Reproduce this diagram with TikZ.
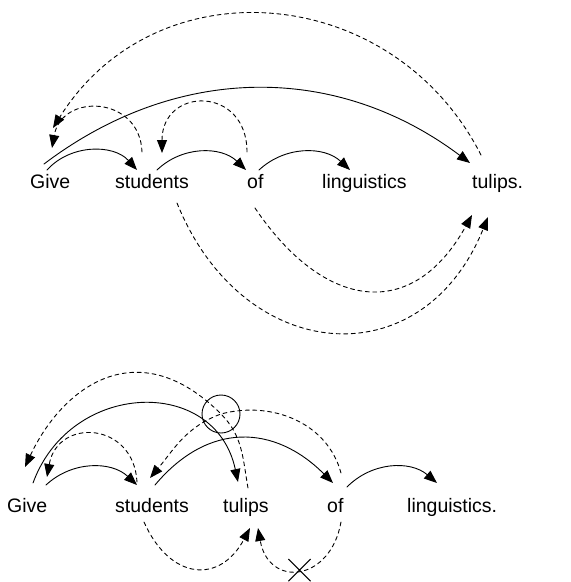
\documentclass[tikz,border=0pt]{standalone}
\usepackage{fontspec}
\setmainfont{Liberation Sans}
\usetikzlibrary{arrows.meta,shapes.misc}

\begin{document}
\begin{tikzpicture}[x=1pt, y=1pt, line cap=round, line join=round,
  word/.style={anchor=base west, inner sep=0pt, font=\fontsize{19.5}{23}\selectfont},
  dep/.style={line width=0.9pt, -{Triangle[length=13pt,width=10pt]}},
  move/.style={dep, dash pattern=on 4pt off 3.5pt}]

\useasboundingbox (0,0) rectangle (571,-582);

%-----------------------
% 上句：Give students of linguistics tulips.
%-----------------------
\def\topy{-188}
\node[word] (give) at (30,\topy)  {Give};
\node[word] (stu)  at (115,\topy) {students};
\node[word] (of)   at (247,\topy) {of};
\node[word] (lin)  at (322,\topy) {linguistics};
\node[word] (tul)  at (472,\topy) {tulips.};

% 实线：依存弧
\draw[dep] ([shift={(17,18)}]give.base west) to[bend left=48] ([shift={(22,18)}]stu.base west);
\draw[dep] ([shift={(42,18)}]stu.base west)  to[bend left=44] ([shift={(-1,18)}]of.base west);
\draw[dep] ([shift={(12,18)}]of.base west)   to[bend left=43] ([shift={(28,18)}]lin.base west);
\draw[dep] ([shift={(14,24)}]give.base west) to[bend left=37] ([shift={(-2,25)}]tul.base west);

% 虚线：上方回指
\draw[move] ([shift={(27,36)}]stu.base west) to[out=92,in=80,looseness=1.6] ([shift={(22,40)}]give.base west);
\draw[move] ([shift={(0,36)}]of.base west)   to[out=90,in=90,looseness=2] ([shift={(47,35)}]stu.base west);
\draw[move] ([shift={(9,33)}]tul.base west)  to[out=117,in=58,looseness=1.16] ([shift={(23,60)}]give.base west);

% 虚线：下方指向 tulips.
\draw[move] ([shift={(62,-15)}]stu.base west) to[out=-68,in=-112,looseness=1.44] ([shift={(16,-29)}]tul.base west);
\draw[move] ([shift={(8,-20)}]of.base west)   to[out=-56,in=-119,looseness=1.45] ([shift={(0,-27)}]tul.base west);

%-----------------------
% 下句：Give students tulips of linguistics.
%-----------------------
\def\boty{-512}
\node[word] (give2) at (7,\boty)   {Give};
\node[word] (stu2)  at (115,\boty) {students};
\node[word] (tul2)  at (223,\boty) {tulips};
\node[word] (of2)   at (327,\boty) {of};
\node[word] (lin2)  at (407,\boty) {linguistics.};

% 两条虚线交叉处的圆圈
\node[draw, circle, line width=0.9pt, minimum size=38pt, inner sep=0pt] (ring) at (221,-414) {};

% 实线
\draw[dep] ([shift={(39,27)}]give2.base west) to[bend left=43] ([shift={(22,27)}]stu2.base west);
\draw[dep] ([shift={(26,29)}]give2.base west) to[out=70,in=102,looseness=1.36] ([shift={(15,30)}]tul2.base west);
\draw[dep] ([shift={(40,27)}]stu2.base west)  to[out=50,in=135,looseness=1.19] ([shift={(6,29)}]of2.base west);
\draw[dep] ([shift={(20,25)}]of2.base west)   to[bend left=43] ([shift={(30,29)}]lin2.base west);

% 虚线：上方，两条穿过圆心
\draw[move] ([shift={(22,30)}]stu2.base west) to[out=93,in=80,looseness=1.72] ([shift={(40,35)}]give2.base west);
\draw[move] ([shift={(25,24)}]tul2.base west) to[out=100,in=-45] (ring.center)
  to[out=135,in=65,out looseness=1.5,in looseness=1.1] ([shift={(18,45)}]give2.base west);
\draw[move] ([shift={(14,39)}]of2.base west) to[out=105,in=15] (ring.center)
  to[out=200,in=50] ([shift={(35,34)}]stu2.base west);

% 虚线：下方，右边一条被划掉
\draw[move] ([shift={(29,-10)}]stu2.base west) to[out=-66,in=-118,looseness=1.54] ([shift={(27,-16)}]tul2.base west);
\draw[move] ([shift={(14,-10)}]of2.base west) to[out=-100,in=-80,looseness=1.88]
  node[pos=0.5, solid, draw, cross out, minimum size=21pt, inner sep=0pt] (blk) {}
  ([shift={(35,-16)}]tul2.base west);

\end{tikzpicture}
\end{document}
